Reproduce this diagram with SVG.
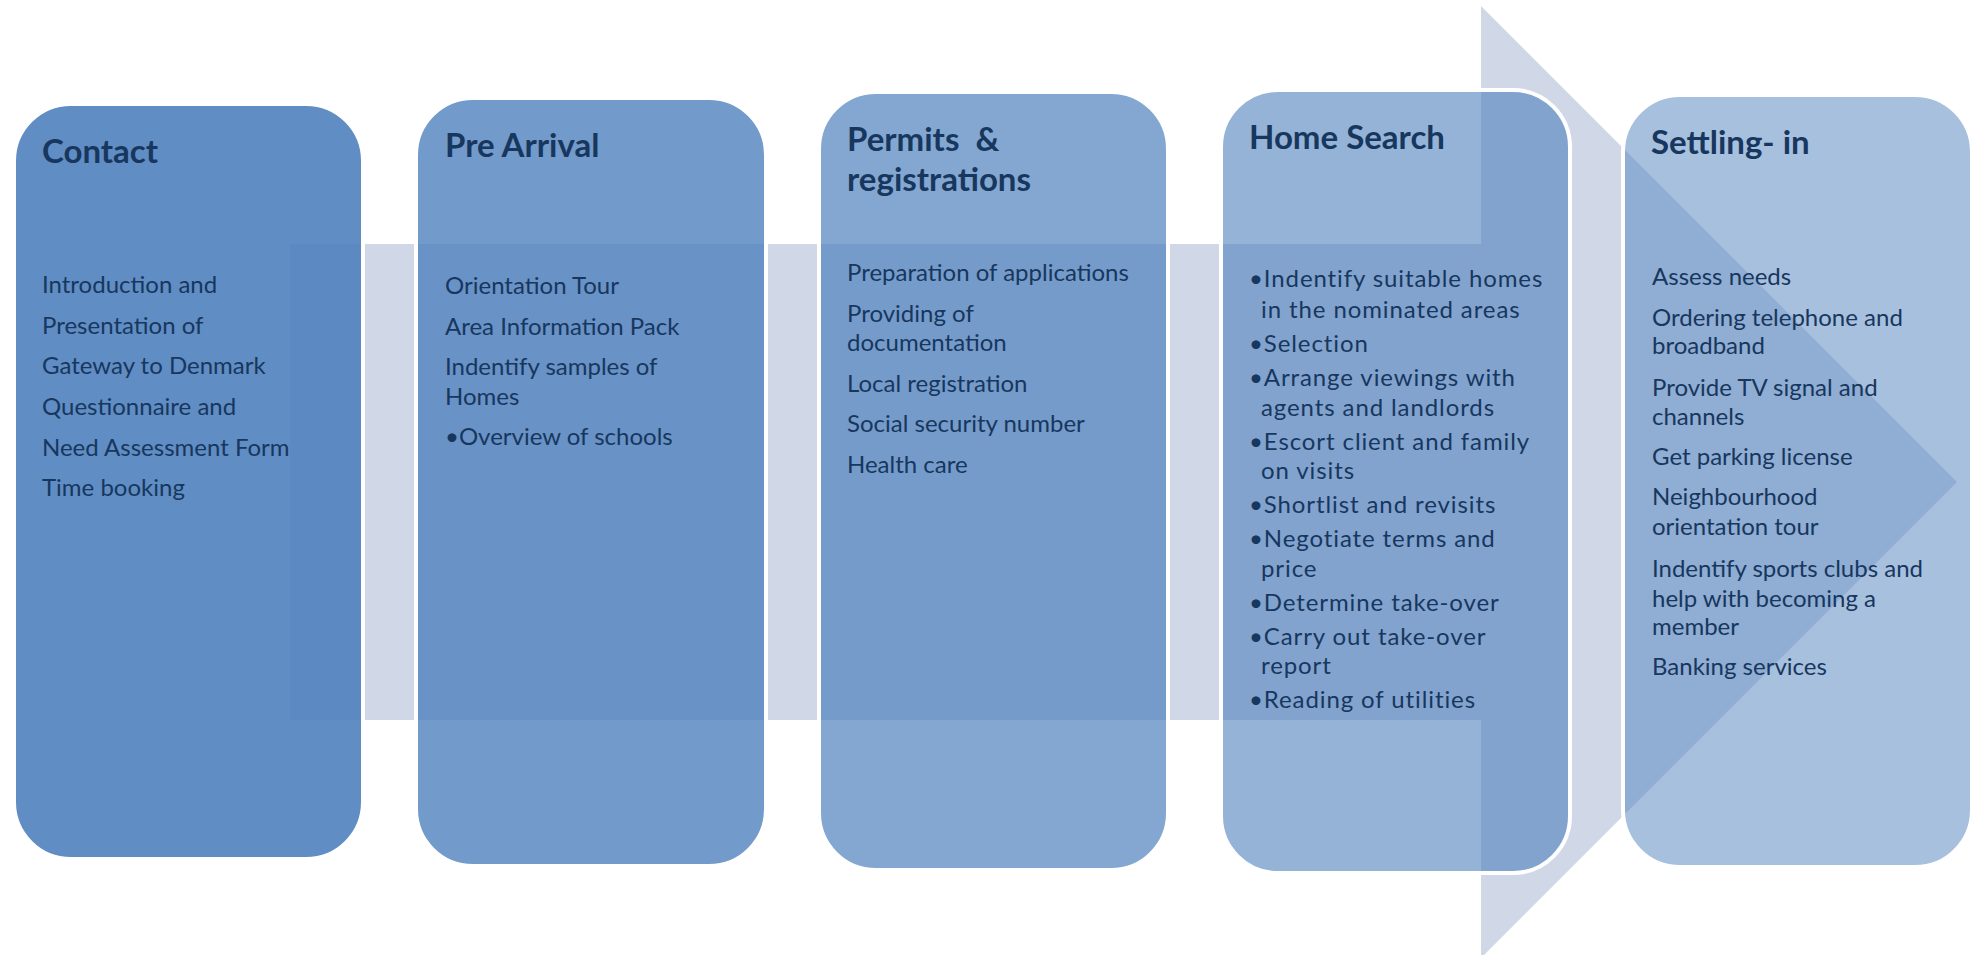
<svg xmlns="http://www.w3.org/2000/svg" width="1973" height="955" viewBox="0 0 1973 955">
<style>
.box{fill:#4F81BD;stroke:#FFFFFF;stroke-width:4}
.title{font-family:Lato,"Liberation Sans",sans-serif;font-weight:bold;font-size:33px;fill:#17375E;white-space:pre}
.body{font-family:Lato,"Liberation Sans",sans-serif;font-size:24px;fill:#17375E}
.hs{font-family:Lato,"Liberation Sans",sans-serif;font-size:24px;letter-spacing:0.9px;fill:#17375E}
</style>
<rect x="0" y="0" width="1973" height="955" fill="#FFFFFF"/>
<g id="connectors">
<path d="M290,244 L1481,244 L1481,6 L1957,482 L1481,958 L1481,720 L290,720 Z" fill="#D0D8E8"/>
</g>
<g id="contact">
<rect class="box" x="14" y="104" width="349" height="755" rx="57" fill-opacity="0.9"/>
<text class="title" x="42" y="163">Contact</text>
<text class="body" x="42" y="293">Introduction and</text>
<text class="body" x="42" y="334">Presentation of</text>
<text class="body" x="42" y="374">Gateway to Denmark</text>
<text class="body" x="42" y="415">Questionnaire and</text>
<text class="body" x="42" y="456">Need Assessment Form</text>
<text class="body" x="42" y="496">Time booking</text>
</g>
<g id="pre-arrival">
<rect class="box" x="416" y="98" width="350" height="768" rx="57" fill-opacity="0.8"/>
<text class="title" x="445" y="157">Pre Arrival</text>
<text class="body" x="445" y="294">Orientation Tour</text>
<text class="body" x="445" y="335">Area Information Pack</text>
<text class="body" x="445" y="375">Indentify samples of</text>
<text class="body" x="445" y="405">Homes</text>
<text class="body" x="445" y="445">•Overview of schools</text>
</g>
<g id="permits">
<rect class="box" x="819" y="92" width="349" height="778" rx="57" fill-opacity="0.7"/>
<text class="title" x="847" y="151">Permits  &amp;</text>
<text class="title" x="847" y="191">registrations</text>
<text class="body" x="847" y="281">Preparation of applications</text>
<text class="body" x="847" y="322">Providing of</text>
<text class="body" x="847" y="351">documentation</text>
<text class="body" x="847" y="392">Local registration</text>
<text class="body" x="847" y="432">Social security number</text>
<text class="body" x="847" y="473">Health care</text>
</g>
<g id="home-search">
<rect class="box" x="1221" y="90" width="349" height="783" rx="57" fill-opacity="0.6"/>
<text class="title" x="1249" y="149">Home Search</text>
<g class="hs">
<text x="1249" y="287">•Indentify suitable homes</text>
<text x="1261" y="318">in the nominated areas</text>
<text x="1249" y="352">•Selection</text>
<text x="1249" y="386">•Arrange viewings with</text>
<text x="1261" y="416">agents and landlords</text>
<text x="1249" y="450">•Escort client and family</text>
<text x="1261" y="479">on visits</text>
<text x="1249" y="513">•Shortlist and revisits</text>
<text x="1249" y="547">•Negotiate terms and</text>
<text x="1261" y="577">price</text>
<text x="1249" y="611">•Determine take-over</text>
<text x="1249" y="645">•Carry out take-over</text>
<text x="1261" y="674">report</text>
<text x="1249" y="708">•Reading of utilities</text>
</g>
</g>
<g id="settling-in">
<rect class="box" x="1623" y="95" width="349" height="772" rx="57" fill-opacity="0.5"/>
<text class="title" x="1651" y="154">Settling- in</text>
<text class="body" x="1652" y="285">Assess needs</text>
<text class="body" x="1652" y="326">Ordering telephone and</text>
<text class="body" x="1652" y="354">broadband</text>
<text class="body" x="1652" y="396">Provide TV signal and</text>
<text class="body" x="1652" y="425">channels</text>
<text class="body" x="1652" y="465">Get parking license</text>
<text class="body" x="1652" y="505">Neighbourhood</text>
<text class="body" x="1652" y="535">orientation tour</text>
<text class="body" x="1652" y="577">Indentify sports clubs and</text>
<text class="body" x="1652" y="607">help with becoming a</text>
<text class="body" x="1652" y="635">member</text>
<text class="body" x="1652" y="675">Banking services</text>
</g>
</svg>
